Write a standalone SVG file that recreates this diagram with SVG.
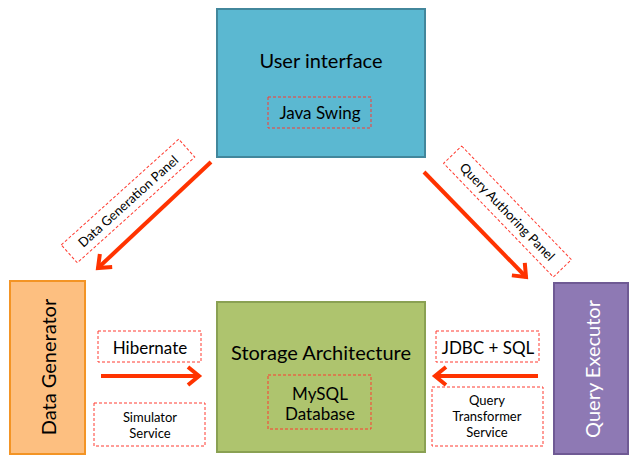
<svg xmlns="http://www.w3.org/2000/svg" width="637" height="463" viewBox="0 0 637 463">
<style>
text{font-family:Lato,"Open Sans","Liberation Sans",sans-serif;fill:#000;text-anchor:middle}
.dash{fill:#fff;stroke:#FF3B30;stroke-width:1;stroke-dasharray:3 2}
.dashn{fill:none;stroke:#FF3B30;stroke-width:1;stroke-dasharray:3 2}
.big{font-size:20px}
.mid{font-size:17px}
.sm{font-size:13px}
.arrow{fill:none;stroke:#FF3300;stroke-width:4;marker-end:url(#arr)}
</style>
<defs>
<marker id="arr" markerUnits="userSpaceOnUse" markerWidth="30" markerHeight="30" viewBox="-20 -15 30 30" refX="0" refY="0" orient="auto" overflow="visible">
<path d="M-11,-9 L0,0 L-11,9" fill="none" stroke="#FF3300" stroke-width="4"/>
</marker>
</defs>
<rect width="637" height="463" fill="#fff"/>
<g id="user-interface">
<rect x="217" y="9" width="208" height="148" fill="#5BB8D1" stroke="#42879C" stroke-width="2"/>
<text class="big" x="321" y="68">User interface</text>
<rect class="dashn" x="268" y="97" width="103" height="31"/>
<text class="mid" x="320" y="119">Java Swing</text>
</g>
<g id="storage">
<rect x="217" y="302" width="208" height="150" fill="#AEC46E" stroke="#8AA153" stroke-width="2"/>
<text class="big" x="321" y="360">Storage Architecture</text>
<rect class="dashn" x="268" y="375" width="103" height="54"/>
<text class="mid" x="320" y="400">MySQL</text>
<text class="mid" x="320" y="420">Database</text>
</g>
<g id="data-generator">
<rect x="10" y="281" width="75" height="173" fill="#FDBF80" stroke="#F39425" stroke-width="2"/>
<text class="big" transform="translate(56,367) rotate(-90)">Data Generator</text>
</g>
<g id="query-executor">
<rect x="554" y="283" width="74" height="171" fill="#8E79B4" stroke="#6F5A94" stroke-width="2"/>
<text class="big" transform="translate(600,369) rotate(-90)" style="fill:#fff">Query Executor</text>
</g>
<g id="connectors">
<path class="arrow" d="M211,162 L98,268"/>
<path class="arrow" d="M424,172 L526,277"/>
<path class="arrow" d="M101,376 L199,376"/>
<path class="arrow" d="M538,376 L435,376"/>
</g>
<g id="labels">
<g transform="translate(128,201) rotate(-42)">
<rect class="dash" x="-79" y="-12" width="158" height="24"/>
<text class="sm" x="0" y="5">Data Generation Panel</text>
</g>
<g transform="translate(507.5,211.5) rotate(46)">
<rect class="dash" x="-79" y="-12.5" width="158" height="25"/>
<text class="sm" x="0" y="5">Query Authoring Panel</text>
</g>
<rect class="dash" x="98" y="331" width="103" height="31"/>
<text class="mid" x="150" y="354">Hibernate</text>
<rect class="dash" x="94" y="403" width="111" height="43"/>
<text class="sm" x="150" y="422">Simulator</text>
<text class="sm" x="150" y="438">Service</text>
<rect class="dash" x="436" y="331" width="103" height="31"/>
<text class="mid" x="488" y="354">JDBC + SQL</text>
<rect class="dash" x="432" y="387" width="111" height="59"/>
<text class="sm" x="487" y="405">Query</text>
<text class="sm" x="487" y="421">Transformer</text>
<text class="sm" x="487" y="437">Service</text>
</g>
</svg>
